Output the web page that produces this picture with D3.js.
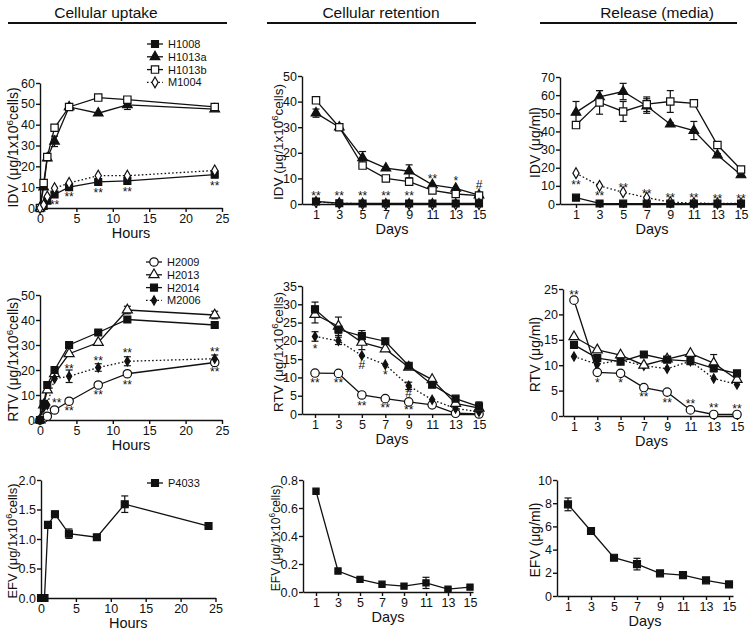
<!DOCTYPE html>
<html><head><meta charset="utf-8">
<script src="https://cdn.jsdelivr.net/npm/d3@7"></script>
<style>
body{margin:0;background:#fff;}
svg text{font-family:"Liberation Sans",Arial,Helvetica,sans-serif;fill:#111;}
</style></head><body>
<svg id="c" width="750" height="634"></svg>
<script>
// ---------- shared categories / ticks ----------
const hours = [0, 0.5, 1, 2, 4, 8, 12, 24];
const days = [1, 3, 5, 7, 9, 11, 13, 15];
const hourTicks = [0, 5, 10, 15, 20, 25];
const dayTicks = [1, 3, 5, 7, 9, 11, 13, 15];
const columnTitles = ["Cellular uptake", "Cellular retention", "Release (media)"];

// ---------- IDV : uptake (hours) ----------
const idvUpH1008 = [0, 1, 3.5, 6.5, 10, 12.5, 13, 16];
const idvUpH1008Err = [0, 0, 0, 1, 0.5, 0.8, 0.8, 0.8];
const idvUpH1013a = [0, 10, 24, 32, 48.5, 45.5, 49.5, 47.5];
const idvUpH1013aErr = [0, 0, 0, 2.5, 0, 0, 2.2, 0.6];
const idvUpH1013b = [0, 12, 24.5, 38.5, 48.5, 53, 52, 48.5];
const idvUpH1013bErr = [0, 0, 0, 0, 0, 0, 0, 0];
const idvUpM1004 = [0, 1.5, 5.5, 9.5, 12, 15.5, 15.5, 18];
const idvUpStars = [[2, 3, "**"], [4, 6.6, "**"], [8, 8.6, "**"], [12, 9, "**"], [24, 12.2, "**"]];

// ---------- IDV : retention (days) ----------
const idvRetH1008 = [1, 0.3, 0.2, 0.2, 0.2, 0.2, 0.2, 0.2];
const idvRetH1013a = [35.5, 30, 18, 14, 12.8, 7.5, 6.1, 3.5];
const idvRetH1013aErr = [1.6, 0, 2.5, 0, 2.5, 0, 0, 0];
const idvRetH1013b = [40.5, 30, 15, 10, 8.7, 5.3, 3.9, 3.3];
const idvRetM1004 = [0.8, 0.3, 0.1, 0, 0, 0, 0, 0];
const idvRetStars = [[1, 4.4, "**"], [3, 4.4, "**"], [5, 4.4, "**"], [7, 4.4, "**"], [9, 4.4, "**"], [11, 11, "**"], [13, 10, "*"], [15, 7.4, "#"]];

// ---------- IDV : release (days) ----------
const idvRelH1008 = [3.5, 0.3, 0.2, 0.2, 0.2, 0.2, 0.2, 0.2];
const idvRelH1013a = [50.5, 59, 62, 54, 44, 40.5, 27, 16];
const idvRelH1013aErr = [6, 3.5, 4.5, 4, 0.8, 5, 0.8, 1];
const idvRelH1013b = [43.5, 56, 51, 55, 56.5, 55.5, 32.5, 19];
const idvRelH1013bErr = [1.5, 6.5, 5.5, 4, 6, 0.8, 1, 1.2];
const idvRelM1004 = [17, 10, 6.5, 3.5, 1, 0.5, 0.3, 0.3];
const idvRelStars = [[1, 12.4, "**"], [3, 6, "**"], [5, 10.6, "**"], [7, 7, "**"], [9, 4.7, "**"], [11, 4.7, "**"], [13, 4.2, "**"], [15, 4.2, "**"]];

// ---------- RTV : uptake (hours) ----------
const rtvUpH2009 = [0, 0.8, 1.5, 4, 7.5, 14, 18.5, 23];
const rtvUpH2009Err = [0, 0, 0, 0, 0, 0, 0, 1];
const rtvUpH2013 = [0, 6, 12, 18.5, 26.5, 31, 44, 42];
const rtvUpH2013Err = [0, 0, 0, 0, 0, 0, 1.5, 1.5];
const rtvUpH2014 = [0, 6.5, 14, 20, 30, 35, 40.2, 38];
const rtvUpH2014Err = [0, 1, 0, 0, 0, 0, 1, 1];
const rtvUpM2006 = [0, 5, 6, 16.5, 17.5, 21, 23.5, 24.5];
const rtvUpM2006Err = [0, 0, 0, 0, 2.5, 1.5, 1.8, 1.5];
const rtvUpStars = [[2.3, 8, "**"], [4, 21.8, "**"], [4, 5, "**"], [8, 25, "**"], [8, 11.3, "**"], [12, 28, "**"], [12, 15.3, "**"], [24, 28.5, "**"], [24, 20.4, "**"]];

// ---------- RTV : retention (days) ----------
const rtvRetH2009 = [11.2, 11.1, 5.2, 4.2, 3.3, 2.5, 0.2, 0];
const rtvRetH2013 = [27.2, 24, 19.6, 17.8, 12.8, 9.4, 2.9, 1.6];
const rtvRetH2013Err = [2.3, 2.5, 2, 0, 0, 0, 0, 1.5];
const rtvRetH2014 = [28.6, 23.1, 21.3, 19.9, 13.2, 8, 4.2, 2];
const rtvRetH2014Err = [2, 1, 1.5, 0, 0, 0, 0, 1.3];
const rtvRetM2006 = [21.2, 20, 16, 13.5, 7.7, 3.9, 1.5, 0.6];
const rtvRetM2006Err = [1.3, 1, 0, 0, 1, 0, 0, 0];
const rtvRetStars = [[1, 18.6, "*"], [1, 9.4, "**"], [3, 9.4, "**"], [5, 13.5, "#"], [5, 2.9, "**"], [7, 11.6, "*"], [7, 2.5, "**"], [9, 5.8, "#"], [9, 1.9, "**"]];

// ---------- RTV : release (days) ----------
const rtvRelH2009 = [22.8, 8.6, 8.4, 5.6, 4.7, 1.2, 0.3, 0.3];
const rtvRelH2013 = [15.6, 13, 12, 10, 11.2, 12.3, 10.4, 7.2];
const rtvRelH2013Err = [0, 0, 0, 0, 0, 0, 1.7, 0];
const rtvRelH2014 = [14, 11.4, 10.7, 12.1, 11.1, 10.8, 9.4, 8.4];
const rtvRelM2006 = [11.7, 10.2, 11, 9.9, 9.3, 10.8, 7.4, 6.2];
const rtvRelStars = [[1, 24.5, "**"], [3, 7.1, "*"], [5, 7.1, "*"], [7, 4.3, "**"], [9, 3.1, "**"], [11, 3, "**"], [13, 2.2, "**"], [15, 2, "**"]];

// ---------- EFV ----------
const efvUpP4033 = [0, 0, 1.24, 1.42, 1.09, 1.03, 1.59, 1.22];
const efvUpP4033Err = [0, 0, 0.03, 0.05, 0.08, 0.04, 0.14, 0.04];
const efvRetP4033 = [0.72, 0.15, 0.09, 0.055, 0.042, 0.065, 0.02, 0.035];
const efvRetP4033Err = [0, 0, 0, 0, 0, 0.04, 0.01, 0];
const efvRelP4033 = [7.9, 5.6, 3.3, 2.75, 1.95, 1.8, 1.35, 1.0];
const efvRelP4033Err = [0.55, 0.2, 0, 0.5, 0, 0, 0, 0];

// ---------- drawing ----------
const svg = d3.select("#c");
const FONT = '"Liberation Sans",Arial,Helvetica,sans-serif';

function symbolPath(type) {
  const m = {
    sqF: [d3.symbolSquare, 48], sqO: [d3.symbolSquare, 54], sqFs: [d3.symbolSquare, 38],
    triF: [d3.symbolTriangle, 40], triO: [d3.symbolTriangle, 44],
    cirO: [d3.symbolCircle, 56], diaO: [d3.symbolDiamond, 34], diaF: [d3.symbolDiamond, 24]
  }[type];
  return d3.symbol().type(m[0]).size(m[1])();
}
function isOpen(type) { return type.endsWith("O"); }

function panel(p) {
  const g = svg.append("g");
  let xs;
  if (p.kind === "hours") {
    xs = d3.scaleLinear().domain([0, 25]).range(p.xr);
  } else {
    const t = d3.scaleLinear().domain([1, 15]).range(p.xr);
    xs = d3.scaleLinear().domain([t.invert(p.L), t.invert(p.R)]).range([p.L, p.R]);
  }
  const ys = d3.scaleLinear().domain([0, p.ymax]).range([p.y0, p.yTop]);
  const L = p.kind === "hours" ? p.xr[0] : p.L;

  // axes
  const ax = g.append("g").attr("transform", `translate(0,${p.y0})`)
    .call(d3.axisBottom(xs).tickValues(p.kind === "hours" ? hourTicks : dayTicks)
      .tickSize(4).tickPadding(2).tickSizeOuter(0).tickFormat(d3.format("d")));
  const ay = g.append("g").attr("transform", `translate(${L},0)`)
    .call(d3.axisLeft(ys).tickValues(p.yTicks).tickSize(4).tickPadding(1).tickSizeOuter(0)
      .tickFormat(p.yFmt));
  [ax, ay].forEach(a => {
    a.selectAll("path,line").attr("stroke", "#111").attr("stroke-width", 1.4);
    a.selectAll("text").attr("font-size", 12.5).attr("font-family", FONT).attr("fill", "#111");
  });

  // axis titles
  g.append("text").attr("x", (p.kind === "hours" ? (p.xr[0] + p.xr[1]) / 2 : (p.L + p.R) / 2))
    .attr("y", p.y0 + 30).attr("text-anchor", "middle").attr("font-size", 14.5)
    .text(p.kind === "hours" ? "Hours" : "Days");
  const fs = p.yfs || 14;
  const yl = g.append("text")
    .attr("transform", `translate(${p.labelX},${(p.y0 + p.yTop) / 2 + 2}) rotate(-90)`)
    .attr("text-anchor", "middle").attr("font-size", fs);
  if (p.yUnitCells) {
    yl.append("tspan").text(p.drug + " (μg/1x10");
    yl.append("tspan").attr("font-size", fs * 0.7).attr("dy", -5).text("6");
    yl.append("tspan").attr("dy", 5).text("cells)");
  } else {
    yl.text(p.drug + " (μg/ml)");
  }

  const xv = p.kind === "hours" ? hours : days;
  // lines
  p.series.forEach(s => {
    const line = d3.line().x((d, i) => xs(xv[i])).y(d => ys(d));
    g.append("path").attr("d", line(s.v)).attr("fill", "none").attr("stroke", "#111")
      .attr("stroke-width", 1.3).attr("stroke-dasharray", s.dotted ? "1.6,2.2" : null);
  });
  // error bars
  p.series.forEach(s => {
    if (!s.e) return;
    s.v.forEach((v, i) => {
      const e = s.e[i]; if (!e) return;
      const x = xs(xv[i]);
      g.append("line").attr("x1", x).attr("x2", x).attr("y1", ys(v - e)).attr("y2", ys(v + e))
        .attr("stroke", "#111").attr("stroke-width", 1.2);
      [v - e, v + e].forEach(w => g.append("line").attr("x1", x - 3.5).attr("x2", x + 3.5)
        .attr("y1", ys(w)).attr("y2", ys(w)).attr("stroke", "#111").attr("stroke-width", 1.2));
    });
  });
  // markers
  p.series.forEach(s => {
    s.v.forEach((v, i) => {
      g.append("path").attr("d", symbolPath(s.mk))
        .attr("transform", `translate(${xs(xv[i])},${ys(v)})`)
        .attr("fill", isOpen(s.mk) ? "#fff" : "#111").attr("stroke", "#111").attr("stroke-width", 1.2);
    });
  });
  // significance marks
  (p.stars || []).forEach(([x, v, t]) => {
    g.append("text").attr("x", xs(x)).attr("y", ys(v) + (t === "#" ? 4 : 7))
      .attr("text-anchor", "middle").attr("font-size", 12).text(t);
  });
  // legend
  if (p.legend) {
    p.legend.items.forEach((it, k) => {
      const y = p.legend.y + k * p.legend.dy;
      g.append("line").attr("x1", p.legend.x).attr("x2", p.legend.x + 16).attr("y1", y).attr("y2", y)
        .attr("stroke", "#111").attr("stroke-width", 1.3).attr("stroke-dasharray", it.dotted ? "1.6,2.2" : null);
      g.append("path").attr("d", symbolPath(it.mk)).attr("transform", `translate(${p.legend.x + 8},${y})`)
        .attr("fill", isOpen(it.mk) ? "#fff" : "#111").attr("stroke", "#111").attr("stroke-width", 1.2);
      g.append("text").attr("x", p.legend.x + 21).attr("y", y).attr("dy", "0.36em")
        .attr("font-size", 11).text(it.name);
    });
  }
}

// column titles with underline
const titleCfg = [[106, 8, 227], [381, 267, 476], [657, 540, 737]];
columnTitles.forEach((t, i) => {
  svg.append("text").attr("x", titleCfg[i][0]).attr("y", 18).attr("text-anchor", "middle")
    .attr("font-size", 15.5).text(t);
  svg.append("line").attr("x1", titleCfg[i][1]).attr("x2", titleCfg[i][2]).attr("y1", 23).attr("y2", 23)
    .attr("stroke", "#111").attr("stroke-width", 2);
});

const fmt0 = d3.format("d"), fmt1 = d3.format(".1f");

// Row 1: IDV
panel({ kind: "hours", xr: [40, 222], y0: 208, yTop: 83, ymax: 60, yTicks: d3.range(0, 61, 10), yFmt: fmt0,
  labelX: 18, drug: "IDV", yUnitCells: true,
  series: [
    { v: idvUpH1008, e: idvUpH1008Err, mk: "sqF" },
    { v: idvUpH1013a, e: idvUpH1013aErr, mk: "triF" },
    { v: idvUpH1013b, e: idvUpH1013bErr, mk: "sqO" },
    { v: idvUpM1004, mk: "diaO", dotted: true }],
  stars: idvUpStars,
  legend: { x: 147, y: 44, dy: 12.8, items: [
    { name: "H1008", mk: "sqF" }, { name: "H1013a", mk: "triF" },
    { name: "H1013b", mk: "sqO" }, { name: "M1004", mk: "diaO", dotted: true }] } });

panel({ kind: "days", L: 302, R: 482, xr: [316, 479], y0: 204, yTop: 76, ymax: 50, yTicks: d3.range(0, 51, 10), yFmt: fmt0,
  labelX: 283, drug: "IDV", yUnitCells: true, yfs: 13.5,
  series: [
    { v: idvRetH1013a, e: idvRetH1013aErr, mk: "triF" },
    { v: idvRetH1013b, mk: "sqO" },
    { v: idvRetM1004, mk: "diaO", dotted: true },
    { v: idvRetH1008, mk: "sqF" }],
  stars: idvRetStars });

panel({ kind: "days", L: 560, R: 744, xr: [576, 741], y0: 204, yTop: 77, ymax: 70, yTicks: d3.range(0, 71, 10), yFmt: fmt0,
  labelX: 540, drug: "IDV", yUnitCells: false,
  series: [
    { v: idvRelH1013a, e: idvRelH1013aErr, mk: "triF" },
    { v: idvRelH1013b, e: idvRelH1013bErr, mk: "sqO" },
    { v: idvRelM1004, mk: "diaO", dotted: true },
    { v: idvRelH1008, mk: "sqF" }],
  stars: idvRelStars });

// Row 2: RTV
panel({ kind: "hours", xr: [40, 222], y0: 420, yTop: 295, ymax: 50, yTicks: d3.range(0, 51, 10), yFmt: fmt0,
  labelX: 18, drug: "RTV", yUnitCells: true,
  series: [
    { v: rtvUpH2009, e: rtvUpH2009Err, mk: "cirO" },
    { v: rtvUpH2013, e: rtvUpH2013Err, mk: "triO" },
    { v: rtvUpH2014, e: rtvUpH2014Err, mk: "sqF" },
    { v: rtvUpM2006, e: rtvUpM2006Err, mk: "diaF", dotted: true }],
  stars: rtvUpStars,
  legend: { x: 146, y: 262, dy: 12.8, items: [
    { name: "H2009", mk: "cirO" }, { name: "H2013", mk: "triO" },
    { name: "H2014", mk: "sqF" }, { name: "M2006", mk: "diaF", dotted: true }] } });

panel({ kind: "days", L: 302, R: 482, xr: [315, 479], y0: 414, yTop: 286, ymax: 35, yTicks: d3.range(0, 36, 5), yFmt: fmt0,
  labelX: 283, drug: "RTV", yUnitCells: true, yfs: 13.5,
  series: [
    { v: rtvRetH2009, mk: "cirO" },
    { v: rtvRetM2006, e: rtvRetM2006Err, mk: "diaF", dotted: true },
    { v: rtvRetH2013, e: rtvRetH2013Err, mk: "triO" },
    { v: rtvRetH2014, e: rtvRetH2014Err, mk: "sqF" }],
  stars: rtvRetStars });

panel({ kind: "days", L: 563, R: 740, xr: [574, 737], y0: 416, yTop: 289, ymax: 25, yTicks: d3.range(0, 26, 5), yFmt: fmt0,
  labelX: 540, drug: "RTV", yUnitCells: false,
  series: [
    { v: rtvRelM2006, mk: "diaF", dotted: true },
    { v: rtvRelH2013, e: rtvRelH2013Err, mk: "triO" },
    { v: rtvRelH2014, mk: "sqF" },
    { v: rtvRelH2009, mk: "cirO" }],
  stars: rtvRelStars });

// Row 3: EFV
panel({ kind: "hours", xr: [41, 215.5], y0: 598, yTop: 480, ymax: 2, yTicks: [0, 0.5, 1, 1.5, 2], yFmt: fmt1,
  labelX: 17, drug: "EFV", yUnitCells: true, yfs: 13,
  series: [{ v: efvUpP4033, e: efvUpP4033Err, mk: "sqF" }],
  legend: { x: 147, y: 483, dy: 12, items: [{ name: "P4033", mk: "sqF" }] } });

panel({ kind: "days", L: 303, R: 473, xr: [316, 470], y0: 592, yTop: 480, ymax: 0.8, yTicks: [0, 0.2, 0.4, 0.6, 0.8], yFmt: fmt1,
  labelX: 280, drug: "EFV", yUnitCells: true, yfs: 12,
  series: [{ v: efvRetP4033, e: efvRetP4033Err, mk: "sqFs" }] });

panel({ kind: "days", L: 557, R: 733, xr: [568, 729], y0: 596, yTop: 480, ymax: 10, yTicks: d3.range(0, 11, 2), yFmt: fmt0,
  labelX: 540, drug: "EFV", yUnitCells: false,
  series: [{ v: efvRelP4033, e: efvRelP4033Err, mk: "sqF" }] });
</script>
</body></html>
